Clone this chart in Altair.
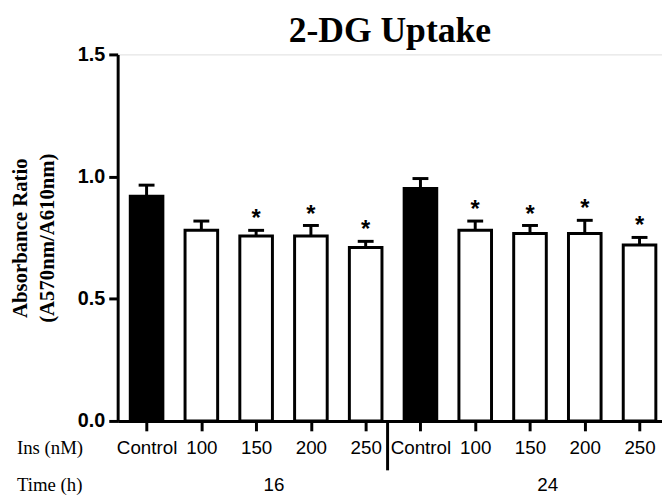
import altair as alt
import pandas as pd

# ---- data ----
ins_labels = ["Control", "100", "150", "200", "250", "Control", "100", "150", "200", "250"]
time_h = [16, 16, 16, 16, 16, 24, 24, 24, 24, 24]
means = [0.920, 0.780, 0.757, 0.757, 0.710, 0.951, 0.780, 0.767, 0.767, 0.720]
sems = [0.045, 0.038, 0.023, 0.043, 0.025, 0.041, 0.038, 0.033, 0.054, 0.031]
significant = [0, 0, 1, 1, 1, 0, 1, 1, 1, 1]
row_titles = ["Ins (nM)", "Time (h)"]
y_ticks = [0.0, 0.5, 1.0, 1.5]

df = pd.DataFrame({
    "idx": list(range(len(ins_labels))),
    "ins": ins_labels,
    "time": time_h,
    "mean": means,
    "sem": sems,
    "sig": significant,
})
df["group"] = ["ctrl" if s == "Control" else "trt" for s in df["ins"]]
df["top"] = df["mean"] + df["sem"]

W, H = 551, 371
half_bar = 0.2976
half_cap = 0.145

xs = alt.Scale(domain=[-0.528, 9.41], nice=False, zero=False)
ys = alt.Scale(domain=[0, 1.5], nice=False)

label_expr = "[" + ",".join("'%s'" % s for s in ins_labels) + "][datum.value]"

x_axis = alt.Axis(
    values=list(range(len(ins_labels))), labelExpr=label_expr, title=None, grid=False,
    domainWidth=3, domainColor="black", tickWidth=3, tickSize=10, tickColor="black",
    labelFont="Liberation Sans", labelFontSize=19, labelColor="black", labelPadding=8,
    labelOverlap=False, labelFlush=False,
)
y_axis = alt.Axis(
    values=y_ticks, format=".1f", grid=False,
    title=["Absorbance Ratio", "(A570nm/A610nm)"],
    titleFont="Liberation Serif", titleFontSize=21, titleFontWeight="bold", titleColor="black",
    titleX=-92, titleY=H / 2, titleAlign="center", titleBaseline="alphabetic", titleLineHeight=27,
    labelFont="Liberation Sans", labelFontSize=20, labelFontWeight="bold", labelColor="black",
    labelPadding=4, tickSize=9, tickWidth=3, tickColor="black", domainWidth=3, domainColor="black",
)

base = alt.Chart(df)

bars = base.mark_rect(stroke="black", strokeWidth=3).transform_calculate(
    x0=f"datum.idx - {half_bar}", x1=f"datum.idx + {half_bar}"
).encode(
    x=alt.X("x0:Q", scale=xs, axis=x_axis),
    x2="x1:Q",
    y=alt.Y("mean:Q", scale=ys, axis=y_axis),
    y2=alt.datum(0),
    fill=alt.Fill("group:N", scale=alt.Scale(domain=["ctrl", "trt"], range=["black", "white"]), legend=None),
)

stems = base.mark_rule(strokeWidth=3, color="black").encode(
    x="idx:Q", y="mean:Q", y2="top:Q"
)

caps = base.mark_rule(strokeWidth=3, color="black").transform_calculate(
    c0=f"datum.idx - {half_cap}", c1=f"datum.idx + {half_cap}"
).encode(x="c0:Q", x2="c1:Q", y="top:Q")

stars = base.mark_text(
    text="*", font="Liberation Sans", fontSize=24, fontWeight="bold", color="black",
    baseline="alphabetic", dy=-4
).transform_filter("datum.sig == 1").encode(x="idx:Q", y="top:Q")

sep = base.transform_aggregate(
    last="max(idx)", groupby=["time"]
).transform_filter("datum.time == 16").transform_calculate(
    xs="datum.last + 0.4"
).mark_rule(strokeWidth=3, color="black").encode(
    x="xs:Q", y=alt.value(H), y2=alt.value(H + 50)
)

grp = base.transform_aggregate(
    cx="mean(idx)", groupby=["time"]
).mark_text(
    font="Liberation Sans", fontSize=19, color="black", baseline="alphabetic", dx=18
).encode(x="cx:Q", y=alt.value(442), text="time:N")

row1 = alt.Chart(pd.DataFrame({"t": [row_titles[0]]})).mark_text(
    font="Liberation Serif", fontSize=19, color="black", align="left", baseline="alphabetic",
    x=-102, y=404
).encode(text="t:N")
row2 = alt.Chart(pd.DataFrame({"t": [row_titles[1]]})).mark_text(
    font="Liberation Serif", fontSize=19, color="black", align="left", baseline="alphabetic",
    x=-102, y=442
).encode(text="t:N")

chart = alt.layer(bars, stems, caps, stars, sep, grp, row1, row2).properties(
    width=W, height=H,
    title=alt.TitleParams("2-DG Uptake", font="Liberation Serif", fontSize=36, fontWeight="bold",
                          color="black", anchor="middle", offset=3, dy=8),
    autosize=alt.AutoSizeParams(type="none"),
    padding={"left": 111, "top": 44, "right": 0, "bottom": 74},
).configure_view(stroke=None).configure(background="white")

chart.save("out.html", embed_options={"renderer": "svg", "actions": False})
